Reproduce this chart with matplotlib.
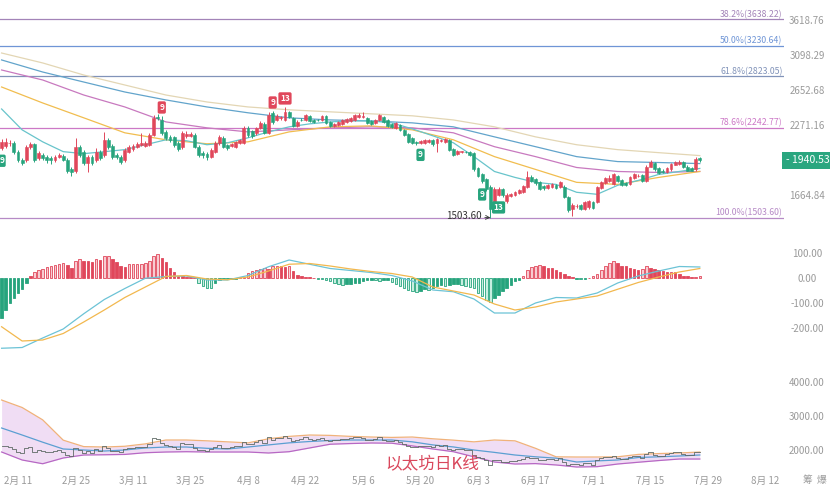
import numpy as np
import pandas as pd
import matplotlib
matplotlib.use("Agg")  # headless
import matplotlib.pyplot as plt
import matplotlib.dates as mdates
import matplotlib.transforms as mtransforms
from matplotlib.ticker import NullLocator

plt.rcParams['font.family'] = ['Noto Sans CJK SC', 'DejaVu Sans']

# ---- daily candles, 2/7 .. 7/27 ----
start_date = "2023-02-07"
opens = [
    2052, 2070, 2092, 2097, 2016, 1946, 1946, 2061, 2088, 1963,
    1989, 1972, 1963, 1946, 1972, 1981, 1946, 1863, 1846, 2061,
    2016, 1921, 1972, 1946, 2016, 1989, 2125, 2070, 1989, 1972,
    1946, 2016, 2043, 2061, 2079, 2070, 2079, 2172, 2354, 2321,
    2201, 2153, 2153, 2097, 2061, 2163, 2163, 2172, 2061, 2007,
    1998, 1972, 2016, 2097, 2144, 2079, 2070, 2061, 2097, 2097,
    2241, 2211, 2192, 2241, 2281, 2192, 2396, 2321, 2343, 2321,
    2406, 2343, 2261, 2321, 2321, 2364, 2321, 2321, 2321, 2364,
    2301, 2261, 2271, 2281, 2301, 2311, 2321, 2354, 2354, 2343,
    2311, 2291, 2321, 2354, 2321, 2281, 2241, 2271, 2221, 2182,
    2144, 2106, 2097, 2097, 2106, 2125, 2097, 2116, 2106, 2125,
    2043, 1998, 2016, 2016, 2016, 2007, 1871, 1822, 1782, 1720,
    1575, 1661, 1705, 1617, 1653, 1661, 1675, 1683, 1720, 1798,
    1782, 1759, 1728, 1713, 1720, 1736, 1720, 1720, 1646, 1561,
    1582, 1589, 1561, 1575, 1610, 1610, 1713, 1751, 1767, 1743,
    1806, 1774, 1751, 1743, 1790, 1806, 1814, 1767, 1887, 1921,
    1871, 1854, 1838, 1863, 1904, 1912, 1929, 1887, 1871, 1863,
    1959]
closes = [
    2106, 2106, 2097, 2016, 1946, 1921, 2061, 2088, 1946, 2007,
    1963, 1946, 1946, 1972, 1989, 1946, 1846, 1838, 2061, 1989,
    1921, 1972, 1921, 2016, 1963, 2125, 2061, 1972, 1972, 1929,
    2034, 2061, 2070, 2088, 2097, 2097, 2172, 2343, 2338, 2192,
    2144, 2125, 2079, 2043, 2192, 2182, 2182, 2061, 1989, 1989,
    1972, 2034, 2097, 2153, 2061, 2052, 2088, 2106, 2125, 2241,
    2172, 2163, 2241, 2291, 2192, 2375, 2301, 2364, 2348, 2406,
    2354, 2261, 2301, 2316, 2375, 2311, 2301, 2316, 2364, 2291,
    2261, 2281, 2301, 2321, 2333, 2343, 2375, 2375, 2364, 2291,
    2281, 2321, 2375, 2301, 2261, 2251, 2291, 2221, 2172, 2106,
    2097, 2097, 2116, 2125, 2125, 2088, 2134, 2125, 2134, 2034,
    1989, 2025, 2020, 2011, 1989, 1863, 1806, 1767, 1705, 1561,
    1705, 1705, 1661, 1661, 1668, 1683, 1698, 1728, 1798, 1767,
    1751, 1705, 1713, 1736, 1743, 1713, 1759, 1646, 1554, 1589,
    1586, 1561, 1610, 1617, 1568, 1720, 1759, 1790, 1790, 1822,
    1767, 1736, 1736, 1798, 1822, 1810, 1767, 1887, 1929, 1863,
    1830, 1838, 1871, 1912, 1929, 1929, 1879, 1854, 1854, 1955,
    1940.53]
highs = [
    2134, 2144, 2125, 2116, 2034, 1963, 2079, 2106, 2097, 2025,
    2007, 1989, 1981, 1989, 2007, 1998, 1963, 1879, 2144, 2079,
    2034, 1989, 1989, 2052, 2034, 2201, 2144, 2088, 2007, 1989,
    2052, 2079, 2088, 2106, 2192, 2116, 2192, 2375, 2385, 2364,
    2221, 2172, 2163, 2116, 2211, 2211, 2201, 2192, 2079, 2025,
    2016, 2052, 2116, 2172, 2163, 2088, 2097, 2116, 2134, 2261,
    2261, 2221, 2251, 2311, 2301, 2406, 2417, 2385, 2364, 2461,
    2417, 2354, 2321, 2343, 2385, 2375, 2333, 2333, 2375, 2375,
    2311, 2291, 2311, 2333, 2343, 2354, 2385, 2396, 2406, 2354,
    2321, 2333, 2385, 2364, 2333, 2291, 2301, 2281, 2231, 2192,
    2153, 2116, 2125, 2134, 2134, 2134, 2144, 2134, 2144, 2134,
    2052, 2034, 2025, 2025, 2025, 2016, 1879, 1830, 1790, 1736,
    1720, 1720, 1713, 1675, 1675, 1690, 1705, 1736, 1846, 1814,
    1790, 1767, 1736, 1743, 1751, 1743, 1767, 1736, 1653, 1603,
    1596, 1596, 1617, 1624, 1617, 1728, 1767, 1798, 1814, 1830,
    1814, 1782, 1759, 1806, 1830, 1822, 1822, 1896, 1946, 1929,
    1879, 1863, 1879, 1921, 1938, 1946, 1938, 1896, 1879, 1972,
    1968]
lows = [
    2034, 2052, 2070, 1998, 1929, 1896, 1929, 2043, 1929, 1946,
    1946, 1921, 1912, 1929, 1963, 1938, 1830, 1806, 1830, 1972,
    1904, 1838, 1904, 1929, 1946, 1972, 2043, 1955, 1955, 1912,
    1929, 2007, 2025, 2052, 2070, 2061, 2070, 2163, 2321, 2172,
    2125, 2106, 2061, 2025, 2043, 2144, 2153, 2052, 1972, 1963,
    1946, 1963, 2007, 2079, 2052, 2034, 2061, 2052, 2088, 2088,
    2153, 2144, 2172, 2231, 2182, 2182, 2281, 2311, 2321, 2311,
    2343, 2251, 2251, 2311, 2311, 2301, 2291, 2311, 2311, 2281,
    2251, 2251, 2261, 2271, 2291, 2301, 2311, 2343, 2343, 2281,
    2271, 2281, 2311, 2291, 2251, 2241, 2231, 2211, 2163, 2097,
    2088, 2079, 2088, 2088, 2097, 2070, 2016, 2106, 2097, 2025,
    1981, 1989, 2007, 2007, 1981, 1854, 1798, 1751, 1690, 1503.6,
    1561, 1653, 1646, 1603, 1646, 1653, 1668, 1675, 1713, 1759,
    1736, 1698, 1698, 1705, 1713, 1705, 1713, 1639, 1540, 1513,
    1568, 1554, 1554, 1561, 1561, 1603, 1705, 1743, 1759, 1736,
    1759, 1728, 1728, 1736, 1782, 1798, 1759, 1759, 1879, 1854,
    1822, 1830, 1830, 1854, 1896, 1904, 1871, 1846, 1846, 1854,
    1929]

# moving averages read every 10 days (fast one every 5 days)
ma_pale = [3125, 2990, 2834, 2711, 2593, 2514, 2459, 2428, 2406, 2385,
           2364, 2321, 2251, 2153, 2079, 2034, 2007, 1981]
ma_blue = [3030, 2872, 2747, 2628, 2537, 2459, 2396, 2343, 2321, 2311,
           2291, 2251, 2153, 2061, 1972, 1929, 1921, 1912]
ma_purple = [2898, 2772, 2593, 2459, 2301, 2241, 2201, 2221, 2241, 2251,
             2241, 2192, 2061, 1972, 1879, 1846, 1838, 1846]
ma_orange = [2687, 2503, 2343, 2192, 2125, 2088, 2106, 2201, 2251, 2261,
             2221, 2125, 1972, 1863, 1759, 1743, 1798, 1846]
ma_cyan = [2437, 2221, 2106, 2016, 1998, 2016, 2034, 2079, 2125, 2116,
           2079, 2097, 2144, 2201, 2251, 2281, 2301, 2311, 2311, 2291,
           2231, 2163, 2097, 1972, 1846, 1798, 1759, 1743, 1683, 1668,
           1736, 1774, 1822, 1846, 1871]

# fibonacci levels
fib_labels = ["38.2%(3638.22)", "50.0%(3230.64)", "61.8%(2823.05)",
              "78.6%(2242.77)", "100.0%(1503.60)"]
fib_levels = [3638.22, 3230.64, 2823.05, 2242.77, 1503.60]
fib_colors = ["#a384b8", "#6f95d6", "#8193b9", "#cc78c6", "#b68ac6"]
price_ticks = [1664.84, 2271.16, 2652.68, 3098.29, 3618.76]
last_price = 1940.53

# MACD (DIF / DEA every 5 days, histogram daily)
dif = [-281, -278, -240, -204, -143, -86, -42, -1, 6, 8, -8, -8, 10, 45, 72,
       55, 38, 30, 22, 10, -12, -48, -55, -84, -140, -140, -100, -78, -80,
       -60, -20, 8, 28, 46, 44]
dea = [-195, -252, -248, -222, -176, -128, -78, -36, 6, 10, -4, -7, 4, 28, 55,
       58, 48, 36, 26, 18, 4, -36, -52, -68, -104, -128, -116, -96, -84,
       -72, -45, -18, 4, 24, 38]
macd_hist = [
    -160, -127, -100, -80, -60, -44, -20, 9, 23, 31,
    36, 43, 47, 51, 55, 60, 51, 40, 67, 77,
    69, 68, 66, 76, 73, 89, 90, 76, 63, 49,
    44, 55, 56, 56, 57, 60, 67, 89, 97, 80,
    63, 40, 23, 9, 7, 5, 4, 3, -20, -31,
    -40, -41, -20, -9, -4, -3, -2, -2, 3, 5,
    20, 27, 33, 36, 40, 36, 49, 49, 47, 44,
    47, 27, 13, 7, 5, 3, 2, -2, -4, -6,
    -12, -18, -24, -27, -25, -23, -21, -18, -10, -9,
    -8, -9, -10, -9, -8, -14, -22, -30, -38, -46,
    -52, -55, -53, -44, -47, -40, -33, -29, -32, -28,
    -25, -22, -27, -30, -35, -40, -60, -73, -87, -97,
    -80, -67, -53, -40, -27, -13, -7, 7, 31, 44,
    49, 51, 47, 40, 39, 33, 24, 16, 7, 3,
    -2, -3, -2, 2, 7, 17, 33, 49, 60, 67,
    60, 49, 47, 41, 36, 31, 36, 47, 41, 36,
    33, 29, 24, 25, 23, 16, 9, 7, 5, 5,
    7]

# bollinger band of the lower panel, every 5 days
bb_up = [3470, 3250, 2887, 2290, 2100, 2088, 2110, 2180, 2294, 2294,
         2270, 2240, 2210, 2330, 2400, 2441, 2430, 2400, 2382, 2370,
         2382, 2330, 2290, 2240, 2294, 2270, 2050, 1800, 1794, 1794,
         1800, 1870, 1895, 1912, 1941]
bb_mid = [2647, 2441, 2230, 2030, 2000, 1970, 2000, 2060, 2088, 2088,
          2050, 2029, 2088, 2150, 2210, 2250, 2280, 2294, 2294, 2294,
          2240, 2150, 2090, 2000, 1930, 1853, 1800, 1760, 1647, 1680,
          1706, 1780, 1800, 1824, 1853]
bb_low = [1941, 1706, 1596, 1765, 1853, 1860, 1870, 1920, 1941, 1950,
          1941, 1941, 1941, 1912, 1950, 2060, 2170, 2190, 2206, 2200,
          2120, 2030, 1950, 1800, 1647, 1588, 1600, 1560, 1500, 1510,
          1588, 1640, 1690, 1735, 1735]

RED = "#e0475b"
GREEN = "#27a47d"
PINK = "#f8cbd1"
MINT = "#c8eee0"
GREY = "#9a9a9a"

o = np.array(opens, float)
c = np.array(closes, float)
h = np.array(highs, float)
l = np.array(lows, float)
dates = pd.date_range(start_date, periods=len(c), freq="D")
x = mdates.date2num(dates)
x5 = x[::5]
x10 = x[::10]

W, H = 830, 495
fig = plt.figure(figsize=(W / 100, H / 100), dpi=100)
fig.patch.set_facecolor("white")


def panel(top, bottom, share=None):
    return fig.add_axes([0, 1 - bottom / H, 784 / W, (bottom - top) / H], sharex=share)


ax = panel(0, 228)
axm = panel(236, 356, ax)
axb = panel(362, 470, ax)

# ---- price panel ----
ax.set_yscale("log")
ax.set_ylim(1436, 3955)
ax.set_xlim(x[0] - 0.39, x[0] + 190.5)

for lev, lab, col in zip(fib_levels, fib_labels, fib_colors):
    ax.axhline(lev, color=col, lw=0.9, zorder=1)
    ax.text(0.998, lev, lab, transform=mtransforms.blended_transform_factory(ax.transAxes, ax.transData),
            ha="right", va="bottom", fontsize=6.3, color=col)

ax.plot(x10, ma_pale, color="#e3d6b4", lw=0.9, zorder=2)
ax.plot(x10, ma_blue, color="#62a4cb", lw=0.9, zorder=2)
ax.plot(x10, ma_purple, color="#c879bf", lw=0.9, zorder=2)
ax.plot(x10, ma_orange, color="#f1bd4f", lw=0.9, zorder=2)
ax.plot(x5, ma_cyan, color="#68c4cb", lw=0.9, zorder=2)

up = c >= o
cols = np.where(up, RED, GREEN)
ax.vlines(x, l, h, colors=cols, lw=0.7, zorder=3)
ax.bar(x, np.abs(c - o), bottom=np.minimum(o, c), width=0.7, color=cols,
       edgecolor=cols, lw=0.4, zorder=4)


def td_mark(i, txt, above):
    col = RED if above else GREEN
    y = h[i] if above else l[i]
    ax.annotate(txt, (x[i], y), xytext=(0, 6 if above else -8), textcoords="offset points",
                ha="center", va="center", fontsize=6, color="white", fontweight="bold",
                bbox=dict(boxstyle="round,pad=0.2", fc=col, ec="none"), zorder=6)


td_mark(0, "9", False)
td_mark(39, "9", True)
td_mark(66, "9", True)
td_mark(69, "13", True)
td_mark(102, "9", False)
td_mark(117, "9", False)
td_mark(121, "13", False)

ilow = int(np.argmin(l))
ax.annotate(f"{l[ilow]:.2f}", (x[ilow], l[ilow]), xytext=(-6, 1), textcoords="offset points",
            ha="right", va="center", fontsize=7, color="#333333",
            arrowprops=dict(arrowstyle="->", lw=0.6, color="#333333", shrinkA=0, shrinkB=0))

ax.text(1.002, last_price, "- " + f"{last_price:.2f}",
        transform=mtransforms.blended_transform_factory(ax.transAxes, ax.transData),
        ha="left", va="center", fontsize=7.5, color="white",
        bbox=dict(boxstyle="square,pad=0.35", fc="#2aa67f", ec="none"), zorder=7, clip_on=False)

ax.set_yticks(price_ticks)
ax.set_yticklabels([f"{v:.2f}" for v in price_ticks])
ax.yaxis.set_minor_locator(NullLocator())

# ---- MACD panel ----
axm.set_ylim(-312, 168)
hist = np.array(macd_hist, float)
prev = np.concatenate([[np.inf], np.abs(hist[:-1])])
growing = np.abs(hist) >= prev
edge = np.where(hist >= 0, RED, GREEN)
face = np.where(growing, np.where(hist >= 0, PINK, MINT), edge)
axm.bar(x, hist, width=0.62, color=face, edgecolor=edge, lw=0.6, zorder=3)
axm.plot(x5, dif, color="#6cc3d6", lw=0.9, zorder=4)
axm.plot(x5, dea, color="#f2b84e", lw=0.9, zorder=4)
axm.set_yticks([-200, -100, 0, 100])
axm.set_yticklabels(["-200.00", "-100.00", "0.00", "100.00"])

# ---- lower panel ----
axb.set_ylim(1412, 4588)
axb.fill_between(x5, bb_low, bb_up, color="#f0ddf4", lw=0, zorder=1)
axb.plot(x5, bb_up, color="#f0b27a", lw=0.9, zorder=2)
axb.plot(x5, bb_low, color="#b768c4", lw=0.9, zorder=2)
axb.plot(x5, bb_mid, color="#5b9fd2", lw=0.9, zorder=2)
axb.plot(x, c, drawstyle="steps-mid", color="#5f6b66", lw=0.6, zorder=3)
axb.set_yticks([2000, 3000, 4000])
axb.set_yticklabels(["2000.00", "3000.00", "4000.00"])

tick_dates = pd.date_range("2023-02-11", periods=14, freq="14D")
axb.set_xticks(mdates.date2num(tick_dates))
axb.set_xticklabels([f"{d.month}月 {d.day}" for d in tick_dates])

for a in (ax, axm, axb):
    for s in a.spines.values():
        s.set_visible(False)
    a.set_facecolor("none")
    a.tick_params(axis="y", left=False, labelleft=False, right=True, labelright=True,
                  length=0, pad=16.5, labelsize=7, labelcolor=GREY)
    for t in a.get_yticklabels():
        t.set_horizontalalignment("center")
    a.tick_params(axis="x", length=0, labelsize=7, labelcolor=GREY, pad=4)
ax.tick_params(axis="x", labelbottom=False)
axm.tick_params(axis="x", labelbottom=False)

fig.text(432 / W, 1 - 465 / H, "以太坊日K线", fontsize=12, color="#d9475c",
         ha="center", va="center")
fig.text(807 / W, 1 - 480 / H, "筹", fontsize=7, color=GREY, ha="center", va="center")
fig.text(822 / W, 1 - 480 / H, "爆", fontsize=7, color=GREY, ha="center", va="center")

fig.savefig("out.png", dpi=100, facecolor="white")
plt.close(fig)
